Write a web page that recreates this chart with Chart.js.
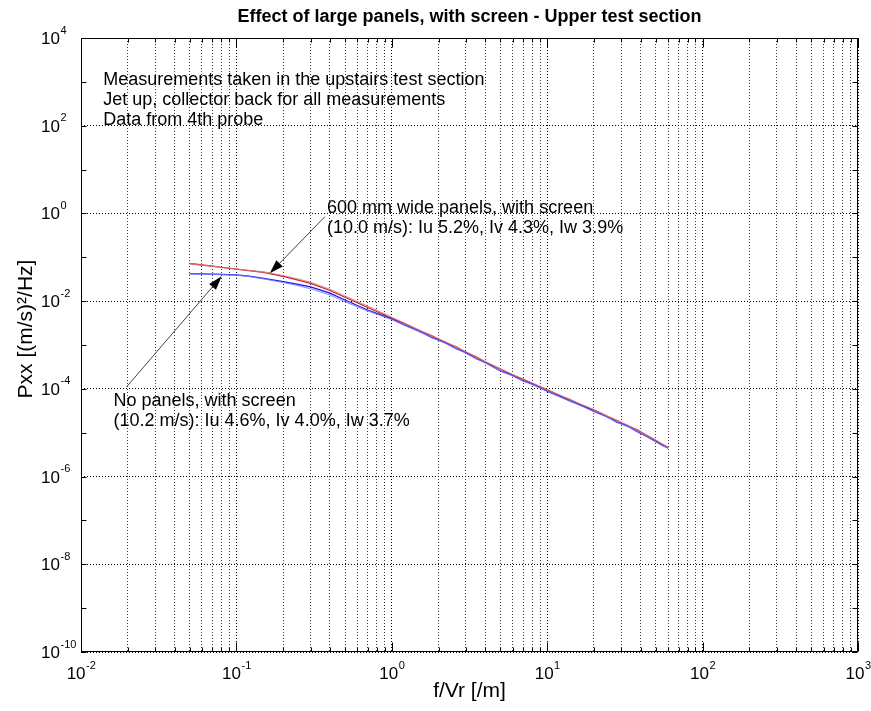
<!DOCTYPE html>
<html>
<head>
<meta charset="utf-8">
<script src="https://cdn.jsdelivr.net/npm/chart.js@4.4.1/dist/chart.umd.min.js"></script>
<style>
html,body{margin:0;padding:0;background:#fff;}
#c{display:block;}
</style>
</head>
<body>
<canvas id="c" width="871" height="711"></canvas>
<script>
// ---------------- data ----------------
const freq = [0.05,0.06,0.07,0.08,0.1,0.12,0.15,0.2,0.25,0.3,0.4,0.5,0.6,0.7,0.8,1.0,1.2,1.5,1.8,2.2,2.6,3.0,3.5,4.0,5.0,6.0,7.0,8.0,10,12,14,17,20,24,28,33,38,44,50,55,60];

// 600 mm wide panels, with screen (red)
const pxxPanels = [0.0722,0.0667,0.0627,0.0592,0.0538,0.0498,0.0453,0.0369,0.0301,0.0253,0.0175,0.01225,0.00918,0.00716,0.00581,0.00406,0.00312,0.00208,0.00163,0.00113,0.000905,0.000668,0.000535,0.000402,0.000284,0.000203,0.000167,0.00013,0.0000955,0.0000692,0.0000571,0.0000407,0.0000333,0.0000236,0.0000192,0.0000141,0.0000116,0.0000085,0.0000066,0.0000054,0.0000046];
const pxxPanelsB = [0.0718,0.0664,0.0625,0.0590,0.0540,0.0505,0.0465,0.0385,0.0318,0.0268,0.0186,0.0131,0.0098,0.0076,0.0062,0.00428,0.00318,0.00221,0.00164,0.00119,0.000905,0.000700,0.000535,0.000421,0.000286,0.000213,0.000168,0.000137,0.0000962,0.0000728,0.0000572,0.0000428,0.0000334,0.0000248,0.0000192,0.0000148,0.0000116,0.0000087,0.0000068,0.0000055,0.0000047];

// No panels, with screen (blue)
const pxxNoPanels = [0.0425,0.0419,0.0412,0.0406,0.0397,0.0371,0.0330,0.0278,0.0240,0.0212,0.0153,0.0106,0.00796,0.00628,0.00524,0.00392,0.00288,0.00211,0.00149,0.00116,0.00082,0.00068,0.000486,0.000405,0.000256,0.000205,0.000151,0.000131,0.0000888,0.0000684,0.0000532,0.0000409,0.0000306,0.0000240,0.0000175,0.0000143,0.0000106,0.0000082,0.0000063,0.0000052,0.0000045];
const pxxNoPanelsB = [0.0420,0.0415,0.0409,0.0403,0.0393,0.0366,0.0322,0.0266,0.0226,0.0192,0.0138,0.0097,0.00745,0.00598,0.00505,0.00382,0.00288,0.00202,0.00150,0.00110,0.00082,0.00065,0.000485,0.000388,0.000256,0.000196,0.000151,0.000126,0.0000885,0.0000660,0.0000530,0.0000392,0.0000305,0.0000231,0.0000175,0.0000138,0.0000106,0.0000080,0.0000062,0.0000051,0.0000044];

// axis ticks and labels
const xGridTicks = [0.01,0.02,0.03,0.04,0.05,0.06,0.07,0.08,0.09,0.1,0.2,0.3,0.4,0.5,0.6,0.7,0.8,0.9,1,2,3,4,5,6,7,8,9,10,20,30,40,50,60,70,80,90,100,200,300,400,500,600,700,800,900,1000];
const xLabelTicks = [0.01,0.1,1,10,100,1000];
const xTickLabels = ['10^-2','10^-1','10^0','10^1','10^2','10^3'];
const yGridTicks = [1e-10,1e-9,1e-8,1e-7,1e-6,1e-5,1e-4,1e-3,1e-2,1e-1,1,1e1,1e2,1e3,1e4];
const yLabelTicks = [1e4,1e2,1,1e-2,1e-4,1e-6,1e-8,1e-10];
const yTickLabels = ['10^4','10^2','10^0','10^-2','10^-4','10^-6','10^-8','10^-10'];

const titleText = 'Effect of large panels, with screen - Upper test section';
const xTitle = 'f/Vr [/m]';
const yTitle = 'Pxx [(m/s)\u00B2/Hz]';

const noteTexts = [
  ['Measurements taken in the upstairs test section','Jet up, collector back for all measurements','Data from 4th probe'],
  ['600 mm wide panels, with screen','(10.0 m/s): Iu 5.2%, Iv 4.3%, Iw 3.9%'],
  ['No panels, with screen','(10.2 m/s): Iu 4.6%, Iv 4.0%, Iw 3.7%']
];

// ---------------- styling / annotation placement ----------------
const FONT = "'Liberation Sans', Arial, Helvetica, sans-serif";
const NOTE_SIZE = 18;
const Y_TITLE_X = 26, Y_TITLE_SHIFT = -16;
const notes = [
  {at:[0.0139, 847], text:noteTexts[0]},
  {at:[0.383, 1.0], text:noteTexts[1]},
  {at:[0.0162, 4.14e-5], text:noteTexts[2]}
];
const arrows = [
  {from:[0.371, 0.843], to:[0.164, 0.043]},
  {from:[0.0197, 1.12e-4], to:[0.0804, 0.037]}
];

function pts(ys){ return freq.map((f,i)=>({x:f, y:ys[i]})); }
function isDecade(v){ return Math.abs(Math.log10(v) - Math.round(Math.log10(v))) < 1e-9; }

function drawPower(ctx, label, ax, baseline, mode){
  const parts = label.split('^');
  ctx.font = '17px ' + FONT;
  const wb = ctx.measureText(parts[0]).width;
  ctx.font = '11px ' + FONT;
  const we = ctx.measureText(parts[1]).width;
  const x0 = mode === 'center' ? ax - (wb + we) / 2 : ax - wb;
  ctx.textAlign = 'left';
  ctx.textBaseline = 'alphabetic';
  ctx.fillStyle = '#000';
  ctx.font = '17px ' + FONT;
  ctx.fillText(parts[0], x0, baseline);
  ctx.font = '11px ' + FONT;
  ctx.fillText(parts[1], x0 + wb + 0.5, baseline - 10.5);
}

function drawArrow(ctx, x1, y1, x2, y2){
  const a = Math.atan2(y2 - y1, x2 - x1);
  const L = 14, W = 4.5;
  const bx = x2 - L * Math.cos(a), by = y2 - L * Math.sin(a);
  ctx.strokeStyle = '#444';
  ctx.lineWidth = 1;
  ctx.beginPath(); ctx.moveTo(x1, y1); ctx.lineTo(bx, by); ctx.stroke();
  ctx.fillStyle = '#000';
  ctx.beginPath();
  ctx.moveTo(x2, y2);
  ctx.lineTo(bx + W * Math.sin(a), by - W * Math.cos(a));
  ctx.lineTo(bx - W * Math.sin(a), by + W * Math.cos(a));
  ctx.closePath(); ctx.fill();
}

const decor = {
  id: 'decor',
  afterDraw(chart){
    const {ctx, chartArea: a, scales: {x, y}} = chart;
    ctx.save();
    const L = Math.round(a.left) + 0.5, R = Math.round(a.right) - 0.5;
    const T = Math.round(a.top) + 0.5, B = Math.round(a.bottom) - 0.5;
    ctx.strokeStyle = '#000';
    ctx.lineWidth = 1;
    ctx.strokeRect(L, T, R - L, B - T);
    // inward tick marks
    ctx.beginPath();
    xGridTicks.forEach(v => {
      const px = Math.round(x.getPixelForValue(v)) + 0.5;
      const len = isDecade(v) ? 9 : 4;
      ctx.moveTo(px, B); ctx.lineTo(px, B - len);
      ctx.moveTo(px, T); ctx.lineTo(px, T + len);
    });
    yGridTicks.forEach(v => {
      const py = Math.round(y.getPixelForValue(v)) + 0.5;
      ctx.moveTo(L, py); ctx.lineTo(L + 5, py);
      ctx.moveTo(R, py); ctx.lineTo(R - 5, py);
    });
    ctx.stroke();
    // tick labels
    xLabelTicks.forEach((v, i) => drawPower(ctx, xTickLabels[i], x.getPixelForValue(v), a.bottom + 27, 'center'));
    yLabelTicks.forEach((v, i) => drawPower(ctx, yTickLabels[i], a.left - 21, y.getPixelForValue(v) + 6, 'right'));
    // y axis title
    ctx.save();
    ctx.translate(Y_TITLE_X, (a.top + a.bottom) / 2 + Y_TITLE_SHIFT);
    ctx.rotate(-Math.PI / 2);
    ctx.font = '21px ' + FONT;
    ctx.fillStyle = '#000';
    ctx.textAlign = 'center';
    ctx.textBaseline = 'middle';
    ctx.fillText(yTitle, 0, 0);
    ctx.restore();
    // annotations
    ctx.fillStyle = '#000';
    ctx.font = NOTE_SIZE + 'px ' + FONT;
    ctx.textAlign = 'left';
    ctx.textBaseline = 'alphabetic';
    notes.forEach(n => {
      const px = x.getPixelForValue(n.at[0]), py = y.getPixelForValue(n.at[1]);
      n.text.forEach((t, k) => ctx.fillText(t, px, py + k * 20));
    });
    arrows.forEach(ar => drawArrow(ctx,
      x.getPixelForValue(ar.from[0]), y.getPixelForValue(ar.from[1]),
      x.getPixelForValue(ar.to[0]), y.getPixelForValue(ar.to[1])));
    ctx.restore();
  }
};

Chart.defaults.font.family = FONT;
Chart.defaults.color = '#000';

new Chart(document.getElementById('c'), {
  type: 'line',
  data: {
    datasets: [
      {label:'No panels, with screen (b)', data: pts(pxxNoPanelsB), borderColor:'rgba(120,120,255,0.8)', borderWidth:1.2},
      {label:'600 mm wide panels, with screen (b)', data: pts(pxxPanelsB), borderColor:'rgba(225,120,120,0.8)', borderWidth:1.2},
      {label:'No panels, with screen', data: pts(pxxNoPanels), borderColor:'#1414f0', borderWidth:1.3},
      {label:'600 mm wide panels, with screen', data: pts(pxxPanels), borderColor:'#c42020', borderWidth:1.3}
    ]
  },
  options: {
    responsive: false,
    animation: false,
    devicePixelRatio: 1,
    layout: {padding: {left: 81, right: 13, top: 0, bottom: 0}},
    elements: {point: {radius: 0}, line: {tension: 0, fill: false}},
    plugins: {
      legend: {display: false},
      tooltip: {enabled: false},
      title: {display: true, fullSize: false, text: titleText, color: '#000', font: {family: FONT, size: 18, weight: 'bold'}, padding: {top: 6.2, bottom: 10.2}}
    },
    scales: {
      x: {
        type: 'logarithmic', min: 0.01, max: 1000,
        afterBuildTicks: s => { s.ticks = xGridTicks.map(v => ({value: v})); },
        ticks: {display: false},
        grid: {color: c => isDecade(c.tick.value) ? '#000' : '#3a3a3a', lineWidth: 1, drawTicks: false, tickLength: 0},
        border: {display: false, dash: [1, 2]},
        title: {display: true, text: xTitle, color: '#000', font: {family: FONT, size: 21}, padding: {top: 26.4, bottom: 7.4}}
      },
      y: {
        type: 'logarithmic', min: 1e-10, max: 1e4,
        afterBuildTicks: s => { s.ticks = yGridTicks.map(v => ({value: v})); },
        ticks: {display: false},
        grid: {
          color: c => (Math.round(Math.log10(c.tick.value)) % 2 === 0) ? '#000' : 'rgba(0,0,0,0)',
          lineWidth: 1, drawTicks: false, tickLength: 0
        },
        border: {display: false, dash: [1, 2]},
        title: {display: false}
      }
    }
  },
  plugins: [decor]
});
</script>
</body>
</html>
